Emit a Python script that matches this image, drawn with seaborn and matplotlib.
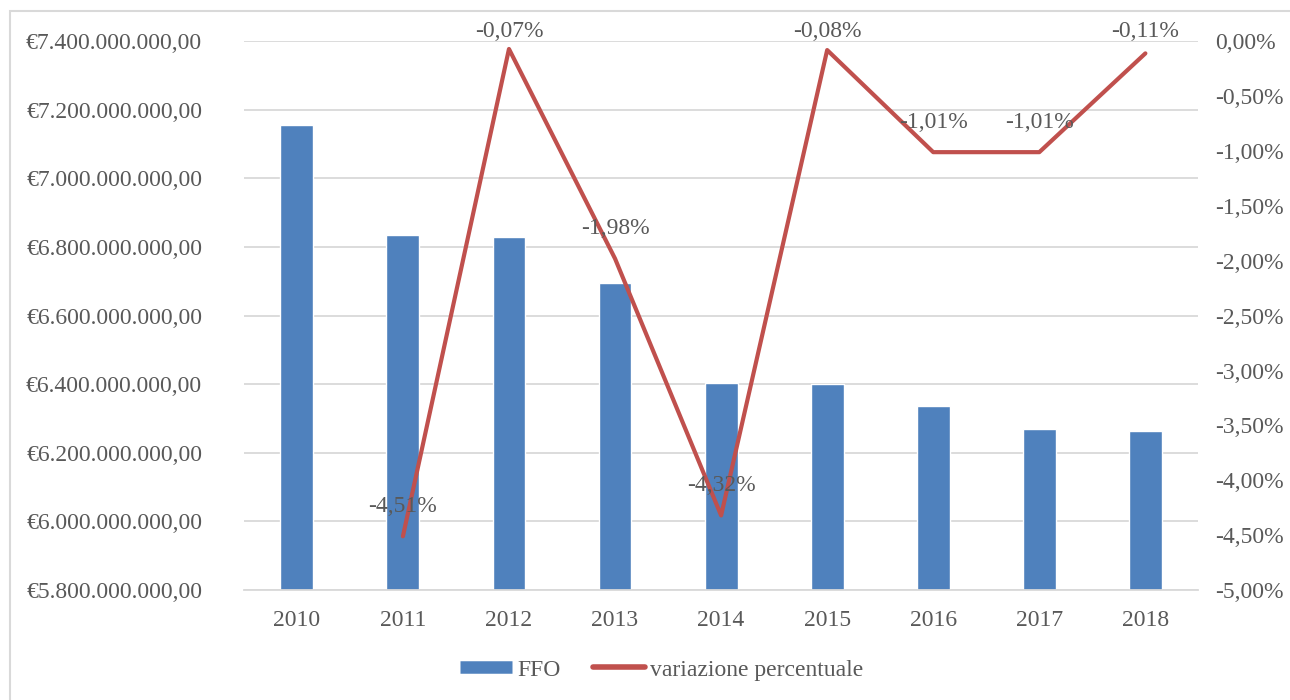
import matplotlib
matplotlib.use("Agg")
import matplotlib.pyplot as plt
import seaborn as sns
import pandas as pd
from matplotlib.ticker import FuncFormatter
from matplotlib.patches import Rectangle
from matplotlib.lines import Line2D

years = ["2010", "2011", "2012", "2013", "2014", "2015", "2016", "2017", "2018"]
ffo = [7.157e9, 6.835e9, 6.830e9, 6.695e9, 6.405e9, 6.400e9, 6.336e9, 6.271e9, 6.264e9]
variazione = [None, -4.51, -0.07, -1.98, -4.32, -0.08, -1.01, -1.01, -0.11]

sns.set_theme(style="white")
plt.rcParams['font.family'] = ['Liberation Serif', 'DejaVu Serif']
TXT = "#595959"
GRID = "#D9D9D9"
BAR = "#4F81BD"
LINE = "#C0504D"
FS = 17

df = pd.DataFrame({"anno": years, "FFO": ffo, "var": variazione})

fig = plt.figure(figsize=(12.9, 7), dpi=100)
ax = fig.add_axes([0.189, 0.157, 0.740, 0.784])

sns.barplot(data=df, x="anno", y="FFO", color=BAR, width=0.31, saturation=1, ax=ax, zorder=2)
ax.set_ylim(5.8e9, 7.4e9)
ax.set_yticks([5.8e9 + i * 0.2e9 for i in range(9)])

def eur(v, pos):
    s = f"{v:,.2f}".replace(",", "X").replace(".", ",").replace("X", ".")
    return "€" + s

ax.yaxis.set_major_formatter(FuncFormatter(eur))
ax.grid(axis="y", color=GRID, linewidth=1.3, zorder=0)
ax.set_axisbelow(True)
for s in ["top", "right", "left"]:
    ax.spines[s].set_visible(False)
ax.spines["bottom"].set_color(GRID)
ax.spines["bottom"].set_linewidth(1.3)
ax.set_xlabel("")
ax.set_ylabel("")
ax.tick_params(axis="both", colors=TXT, labelsize=FS, length=0)
ax.tick_params(axis="y", pad=30)
ax.tick_params(axis="x", pad=14)
ax.set_xlim(-0.5, 8.5)

ax2 = ax.twinx()
line_df = df.dropna(subset=["var"]).copy()
line_df["x"] = [years.index(a) for a in line_df["anno"]]
sns.lineplot(data=line_df, x="x", y="var", color=LINE, linewidth=3.0, ax=ax2, zorder=3)
ax2.set_ylim(-5, 0)
ax2.set_yticks([-5 + 0.5 * i for i in range(11)])
ax2.yaxis.set_major_formatter(FuncFormatter(lambda v, p: f"{v:.2f}%".replace(".", ",")))
ax2.tick_params(axis="y", colors=TXT, labelsize=FS, length=0, pad=12)
for s in ax2.spines.values():
    s.set_visible(False)
ax2.set_ylabel("")
ax2.set_xlabel("")
ax2.grid(False)
ax2.set_xlim(-0.5, 8.5)

for x, v in zip(line_df["x"], line_df["var"]):
    ly = min(v + 0.273, 0.09)
    ax2.text(x, ly, f"{v:.2f}%".replace(".", ","), ha="center", va="center",
             fontsize=FS, color=TXT, clip_on=False)

handles = [Line2D([0], [0], color=BAR, linewidth=9, solid_capstyle="butt"),
           Line2D([0], [0], color=LINE, linewidth=4, solid_capstyle="round")]
fig.legend(handles, ["FFO", "variazione percentuale"], loc="center",
           bbox_to_anchor=(0.513, 0.043), ncol=2, frameon=False, fontsize=FS,
           labelcolor=TXT, handlelength=2.2, handletextpad=0.2, columnspacing=1.4)

fig.add_artist(Rectangle((0.008, -0.1), 1.2, 1.085, transform=fig.transFigure,
                         fill=False, edgecolor=GRID, linewidth=1.5))

fig.savefig("out.png", dpi=100)
